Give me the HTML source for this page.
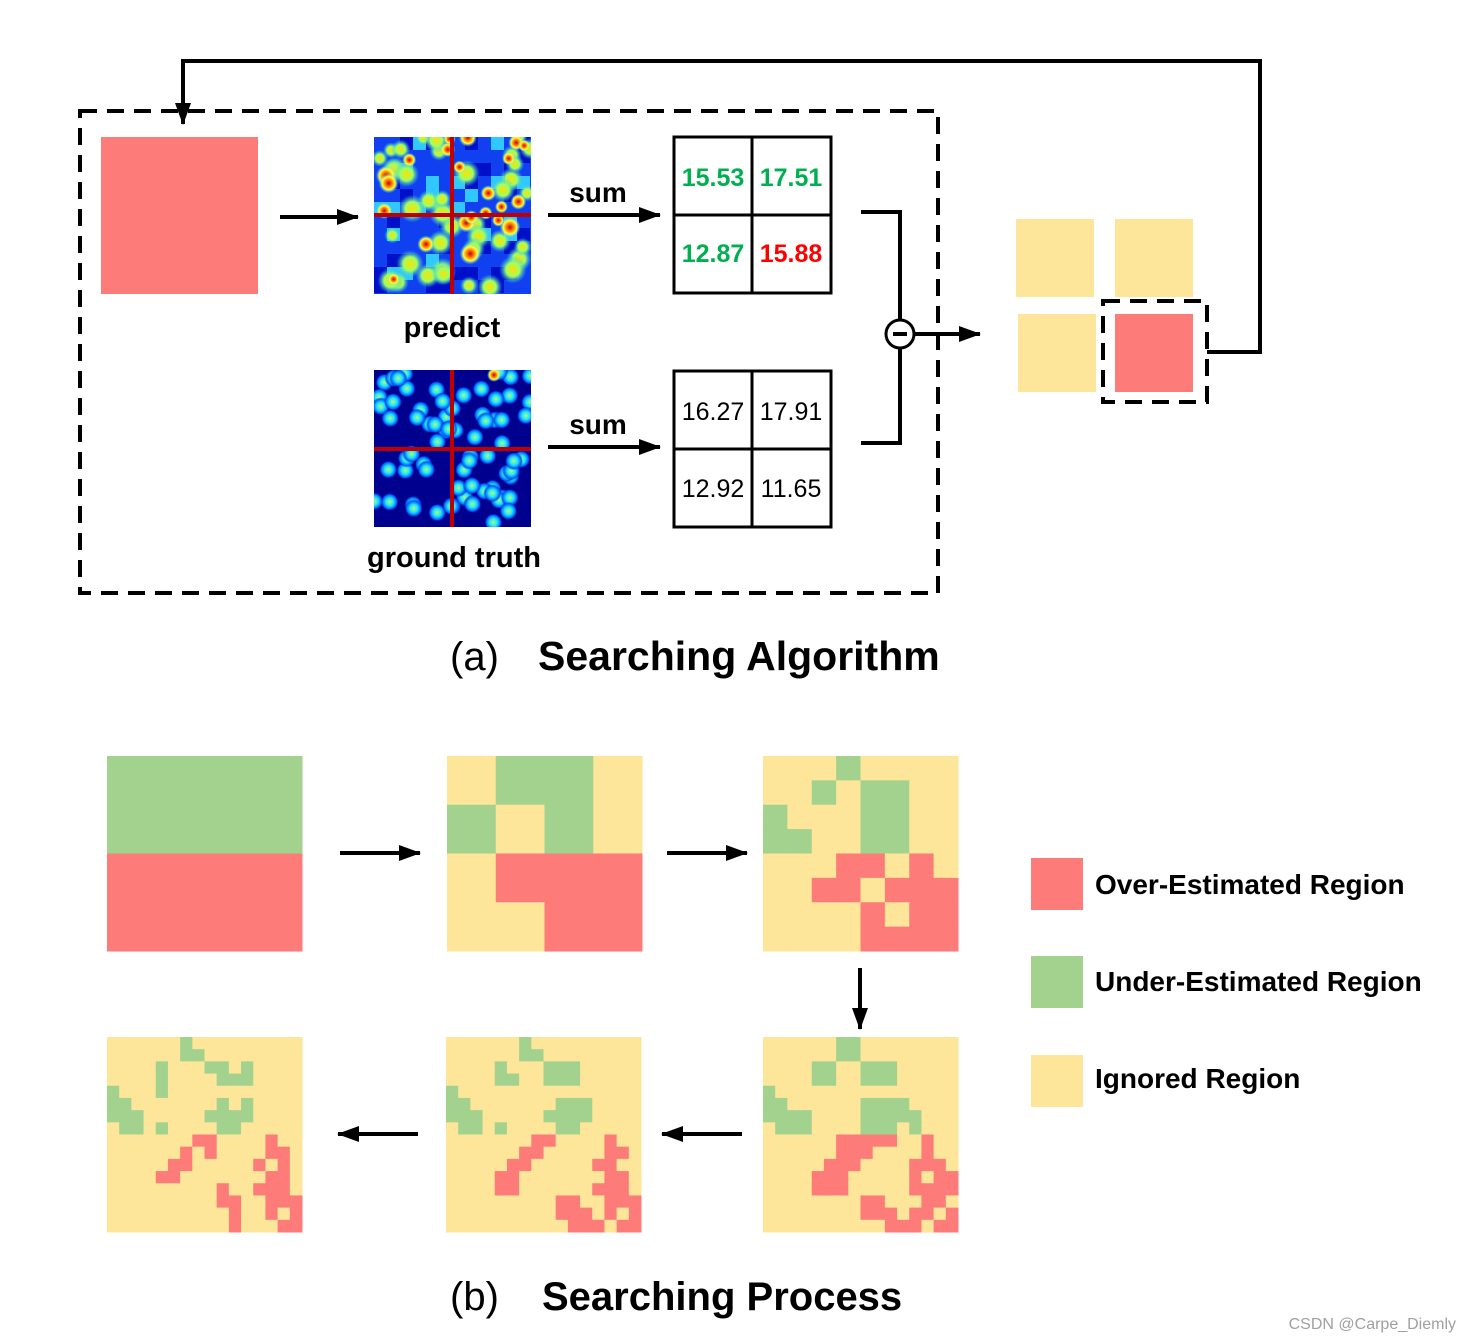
<!DOCTYPE html>
<html><head><meta charset="utf-8"><style>
html,body{margin:0;padding:0;background:#fff;}
svg{display:block;}
text{font-family:"Liberation Sans",sans-serif;}
</style></head><body>
<svg id="s" width="1471" height="1342" viewBox="0 0 1471 1342" xmlns="http://www.w3.org/2000/svg">
<defs>
<marker id="ah" markerWidth="22" markerHeight="16" refX="21" refY="8" orient="auto" markerUnits="userSpaceOnUse" viewBox="0 0 22 16"><path d="M0,0 L22,8 L0,16 z" fill="#000"/></marker>
<radialGradient id="hot"><stop offset="0" stop-color="#c00000"/><stop offset="0.35" stop-color="#ff8000"/><stop offset="0.65" stop-color="#ffff40"/><stop offset="1" stop-color="#40e0ff" stop-opacity="0"/></radialGradient>
<radialGradient id="warm"><stop offset="0" stop-color="#ffe000"/><stop offset="0.5" stop-color="#a0ff60"/><stop offset="1" stop-color="#20c0ff" stop-opacity="0"/></radialGradient>
<radialGradient id="cy"><stop offset="0" stop-color="#a0ff80"/><stop offset="0.45" stop-color="#20e0ff"/><stop offset="0.8" stop-color="#0060ff"/><stop offset="1" stop-color="#0000a0" stop-opacity="0"/></radialGradient>
<clipPath id="cp1"><rect x="374" y="137" width="157" height="157"/></clipPath>
<clipPath id="cp2"><rect x="374" y="370" width="157" height="157"/></clipPath>
</defs>

<rect x="80" y="111" width="858" height="482" fill="none" stroke="#000" stroke-width="4" stroke-dasharray="17,10"/>
<rect x="101" y="137" width="157" height="157" fill="#fd7b78"/>
<line x1="280" y1="217" x2="358" y2="217" stroke="#000" stroke-width="4" marker-end="url(#ah)"/>

<g id="pred" clip-path="url(#cp1)"><rect x="374" y="137" width="157" height="157" fill="#1040f0"/></g>
<g id="gt" clip-path="url(#cp2)"><rect x="374" y="370" width="157" height="157" fill="#00008f"/></g>
<line x1="452" y1="137" x2="452" y2="294" stroke="#c00000" stroke-width="4"/>
<line x1="374" y1="215" x2="531" y2="215" stroke="#c00000" stroke-width="4"/>
<line x1="452" y1="370" x2="452" y2="527" stroke="#c00000" stroke-width="4"/>
<line x1="374" y1="449" x2="531" y2="449" stroke="#c00000" stroke-width="4"/>
<text x="452" y="337" font-size="29" font-weight="bold" text-anchor="middle">predict</text>
<text x="454" y="567" font-size="29" font-weight="bold" text-anchor="middle">ground truth</text>

<text x="598" y="202" font-size="28" font-weight="bold" text-anchor="middle">sum</text>
<line x1="548" y1="215" x2="660" y2="215" stroke="#000" stroke-width="4" marker-end="url(#ah)"/>
<text x="598" y="434" font-size="28" font-weight="bold" text-anchor="middle">sum</text>
<line x1="548" y1="447" x2="660" y2="447" stroke="#000" stroke-width="4" marker-end="url(#ah)"/>

<g stroke="#000" stroke-width="3" fill="none">
<rect x="674" y="137" width="157" height="156"/><line x1="752" y1="137" x2="752" y2="293"/><line x1="674" y1="215" x2="831" y2="215"/>
<rect x="674" y="371" width="157" height="156"/><line x1="752" y1="371" x2="752" y2="527"/><line x1="674" y1="449" x2="831" y2="449"/>
</g>
<g font-size="25" font-weight="bold" text-anchor="middle">
<text x="713" y="186" fill="#00b050">15.53</text><text x="791" y="186" fill="#00b050">17.51</text>
<text x="713" y="262" fill="#00b050">12.87</text><text x="791" y="262" fill="#ff0000">15.88</text>
</g>
<g font-size="25" text-anchor="middle">
<text x="713" y="420">16.27</text><text x="791" y="420">17.91</text>
<text x="713" y="497">12.92</text><text x="791" y="497">11.65</text>
</g>

<polyline points="861,212 900,212 900,443 861,443" fill="none" stroke="#000" stroke-width="4"/>
<circle cx="900" cy="334" r="14" fill="#fff" stroke="#000" stroke-width="3"/>
<line x1="893" y1="334" x2="907" y2="334" stroke="#000" stroke-width="4"/>
<line x1="914" y1="334" x2="980" y2="334" stroke="#000" stroke-width="4" marker-end="url(#ah)"/>

<rect x="1016" y="219" width="78" height="78" fill="#fde599"/>
<rect x="1115" y="219" width="78" height="78" fill="#fde599"/>
<rect x="1018" y="314" width="78" height="78" fill="#fde599"/>
<rect x="1115" y="314" width="78" height="78" fill="#fd7b78"/>
<rect x="1103" y="301" width="104" height="101" fill="none" stroke="#000" stroke-width="4" stroke-dasharray="17,10"/>
<polyline points="1207,352 1260,352 1260,61 183,61 183,124" fill="none" stroke="#000" stroke-width="4" marker-end="url(#ah)"/>

<text x="450" y="670" font-size="40">(a)</text>
<text x="538" y="670" font-size="41" font-weight="bold">Searching Algorithm</text>

<g id="grids"></g>
<g stroke="#000" stroke-width="4" marker-end="url(#ah)">
<line x1="340" y1="853" x2="420" y2="853"/>
<line x1="667" y1="853" x2="747" y2="853"/>
<line x1="860" y1="968" x2="860" y2="1029"/>
<line x1="742" y1="1134" x2="662" y2="1134"/>
<line x1="418" y1="1134" x2="338" y2="1134"/>
</g>
<rect x="1031" y="858" width="52" height="52" fill="#fd7b78"/>
<rect x="1031" y="956" width="52" height="52" fill="#a3d18e"/>
<rect x="1031" y="1055" width="52" height="52" fill="#fde599"/>
<g font-size="28" font-weight="bold">
<text x="1095" y="894">Over-Estimated Region</text>
<text x="1095" y="991">Under-Estimated Region</text>
<text x="1095" y="1088">Ignored Region</text>
</g>
<text x="450" y="1310" font-size="40">(b)</text>
<text x="542" y="1310" font-size="40" font-weight="bold">Searching Process</text>
<text x="1456" y="1329" font-size="16" fill="#a0a0a0" text-anchor="end">CSDN @Carpe_Diemly</text>
</svg>
<script>
var NS="http://www.w3.org/2000/svg";
function el(p,t,a){var e=document.createElementNS(NS,t);for(var k in a)e.setAttribute(k,a[k]);p.appendChild(e);return e;}
var seed=7;function rnd(){seed=(seed*16807)%2147483647;return seed/2147483647;}
var pred=document.getElementById('pred');
for(var i=0;i<70;i++){var yy=Math.floor(rnd()*12);el(pred,'rect',{x:374+Math.floor(rnd()*12)*13,y:137+yy*13,width:13,height:13,fill:(rnd()<0.35+yy*0.04)?'#0010c8':'#30c8ff'});}
for(var i=0;i<40;i++){el(pred,'circle',{cx:374+rnd()*157,cy:137+rnd()*157,r:8+rnd()*6,fill:'url(#warm)'});}
for(var i=0;i<22;i++){el(pred,'circle',{cx:374+rnd()*157,cy:137+rnd()*rnd()*157,r:6+rnd()*5,fill:'url(#hot)'});}
var gt=document.getElementById('gt');
for(var i=0;i<70;i++){el(gt,'circle',{cx:374+rnd()*157,cy:370+rnd()*157,r:9,fill:'url(#cy)'});}
el(gt,'circle',{cx:494,cy:375,r:7,fill:'url(#hot)'});
var C={Y:'#fde599',G:'#a3d18e',R:'#fd7b78'};
var g=document.getElementById('grids');
function grid(x,y,rows){var n=rows.length,s=195/n;for(var r=0;r<n;r++)for(var c=0;c<n;c++)el(g,'rect',{x:x+c*s,y:y+r*s,width:s+0.5,height:s+0.5,fill:C[rows[r][c]]});}
grid(107,756,["GG","RR"]);
grid(447,756,["YGGY","GYGY","YRRR","YYRR"]);
grid(763,756,["YYYGYYYY","YYGYGGYY","GYYYGGYY","GGYYGGYY","YYYRRYRY","YYRRYRRR","YYYYRYRR","YYYYRRRR"]);
var g4=["YYYYYYGGYYYYYYYY","YYYYYYGGYYYYYYYY","YYYYGGYYGGGYYYYY","YYYYGGYYGGGYYYYY","GYYYYYYYYYYYYYYY","GGYYYYYYGGGGYYYY","GGGGYYYYGGGGGYYY","YGGGYYYYGGGYGYYY","YYYYYYRRRRRYYRYY","YYYYYYRRRYYYYRYY","YYYYYRRRYYYYRRRY","YYYYRRRYYYYYRYRR","YYYYRRRYYYYYRRRR","YYYYYYYYRRYYYRRY","YYYYYYYYRRRYRRYR","YYYYYYYYYYRRRYRR"];
grid(763,1037,g4);
var g5=["YYYYYYGYYYYYYYYY","YYYYYYGGYYYYYYYY","YYYYGYYYGGGYYYYY","YYYYGGYYGGGYYYYY","GYYYYYYYYYYYYYYY","GGYYYYYYYGGGYYYY","GGGYYYYYGGGGYYYY","YGGYGYYYYGGYYYYY","YYYYYYYRRYYYYRYY","YYYYYYRRYYYYYRRY","YYYYYRRYYYYYRRYY","YYYYRRYYYYYYYRRY","YYYYRRYYYYYYRRRY","YYYYYYYYYRRYYRRR","YYYYYYYYYRRRYRYR","YYYYYYYYYYRRRYRR"];
grid(446,1037,g5);
var g6=["YYYYYYGYYYYYYYYY","YYYYYYGGYYYYYYYY","YYYYGYYYGGYGYYYY","YYYYGYYYYGGGYYYY","GYYYGYYYYYYYYYYY","GGYYYYYYYGYGYYYY","GGGYYYYYGGGGYYYY","YGGYGYYYYGGYYYYY","YYYYYYYRRYYYYRYY","YYYYYYRYRYYYYRRY","YYYYYRRYYYYYRYRY","YYYYRRYYYYYYYRRY","YYYYYYYYYRYYRRRY","YYYYYYYYYRRYYRRR","YYYYYYYYYYRYYRYR","YYYYYYYYYYRYYYRR"];
grid(107,1037,g6);
</script>
</body></html>
